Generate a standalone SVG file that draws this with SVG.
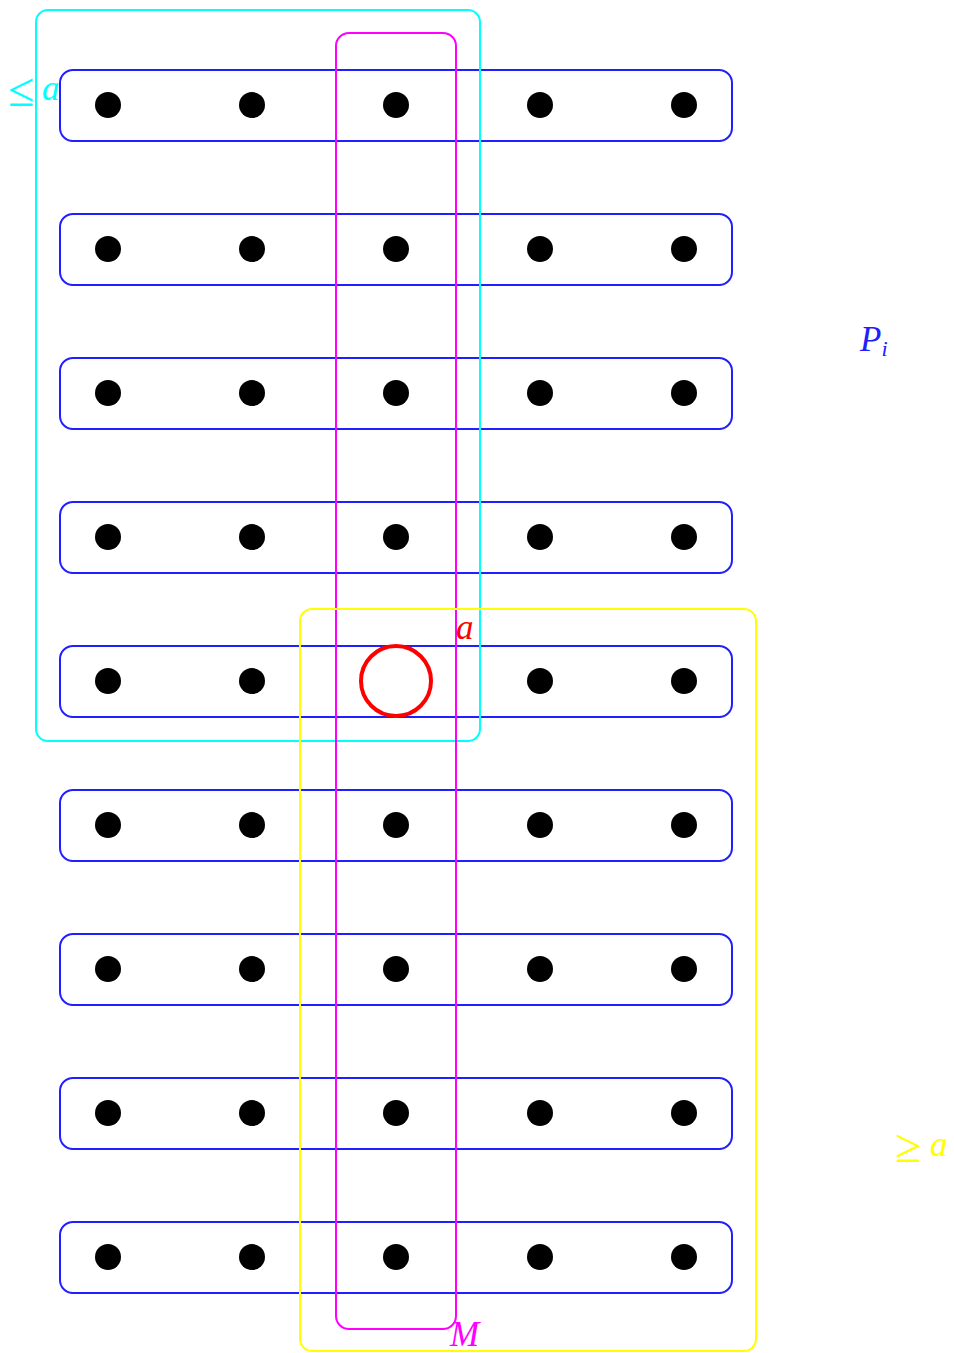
<svg xmlns="http://www.w3.org/2000/svg" width="954" height="1353" viewBox="0 0 954 1353">
<style>
.row{fill:none;stroke:#2020ff;stroke-width:2}
.dot{fill:#000}
.lbl{font-family:"Liberation Serif","DejaVu Serif",serif;font-style:italic;font-size:35px}
.sym{font-family:"Liberation Serif","DejaVu Serif",serif;font-size:48px}
</style>
<rect width="954" height="1353" fill="#fff"/>
<defs>
<g id="rowg">
<rect class="row" x="60" y="-35" width="672" height="71" rx="13"/>
<circle class="dot" cx="108" cy="0" r="13"/>
<circle class="dot" cx="252" cy="0" r="13"/>
<circle class="dot" cx="396" cy="0" r="13"/>
<circle class="dot" cx="540" cy="0" r="13"/>
<circle class="dot" cx="684" cy="0" r="13"/>
</g>
</defs>
<g id="rows">
<use href="#rowg" y="105"/>
<use href="#rowg" y="249"/>
<use href="#rowg" y="393"/>
<use href="#rowg" y="537"/>
<g id="row5">
<rect class="row" x="60" y="646" width="672" height="71" rx="13"/>
<circle class="dot" cx="108" cy="681" r="13"/>
<circle class="dot" cx="252" cy="681" r="13"/>
<circle class="dot" cx="540" cy="681" r="13"/>
<circle class="dot" cx="684" cy="681" r="13"/>
</g>
<use href="#rowg" y="825"/>
<use href="#rowg" y="969"/>
<use href="#rowg" y="1113"/>
<use href="#rowg" y="1257"/>
</g>
<g id="cyan">
<rect x="36" y="10" width="444" height="731" rx="12" fill="none" stroke="#00ffff" stroke-width="2"/>
<text class="sym" x="8" y="106" fill="#00ffff">≤</text>
<text class="lbl" x="42" y="100" fill="#00ffff">a</text>
</g>
<g id="magenta">
<rect x="336" y="33" width="120" height="1296" rx="13" fill="none" stroke="#ff00ff" stroke-width="2"/>
<text class="lbl" x="450" y="1346" fill="#ff00ff">M</text>
</g>
<g id="yellow">
<rect x="300" y="609" width="456" height="742" rx="12" fill="none" stroke="#ffff00" stroke-width="2"/>
<text class="sym" x="895" y="1162" fill="#ffff00">≥</text>
<text class="lbl" x="930" y="1156" fill="#ffff00">a</text>
</g>
<g id="marked">
<circle cx="396" cy="681" r="35" fill="none" stroke="#ff0000" stroke-width="4"/>
<text class="lbl" x="456" y="639" fill="#ff0000">a</text>
</g>
<g id="Pi">
<text class="lbl" x="860" y="351" fill="#2020ff">P<tspan font-size="22" dy="5">i</tspan></text>
</g>
</svg>
